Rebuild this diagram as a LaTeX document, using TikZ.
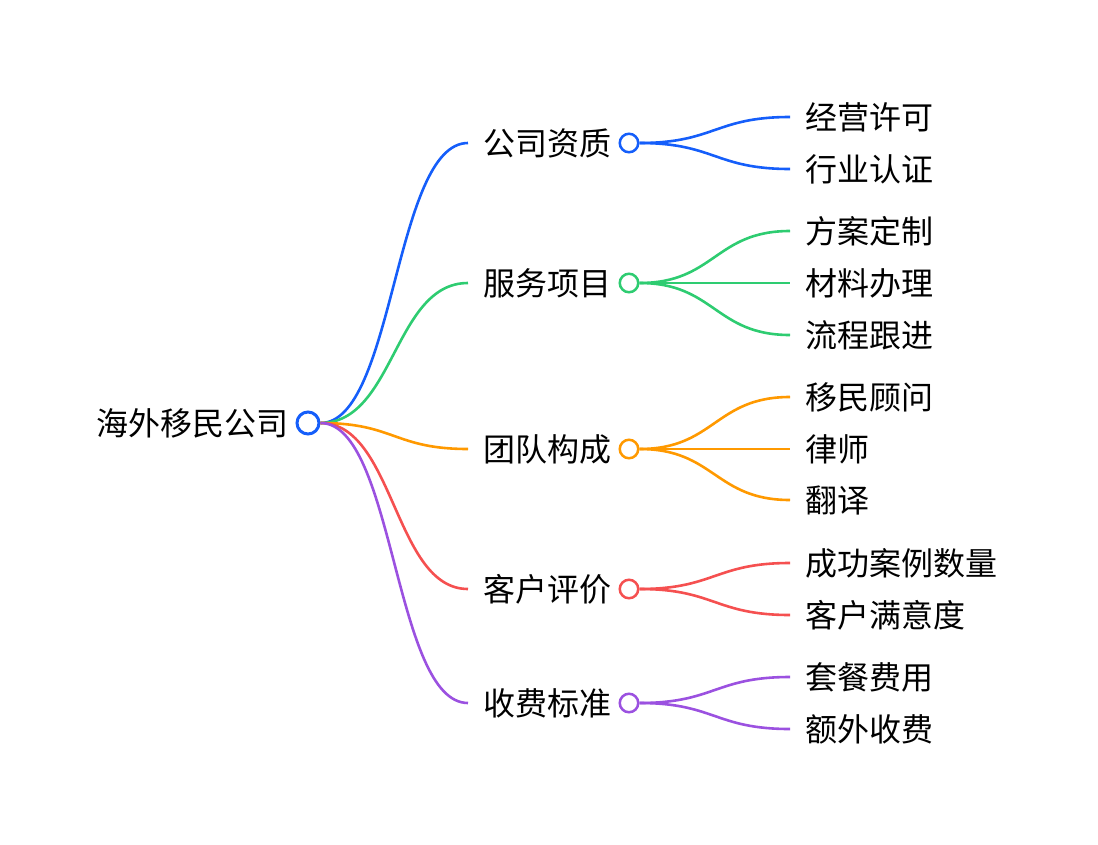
\documentclass[tikz,border=0pt]{standalone}
\usepackage{fontspec}
\setmainfont{Noto Sans CJK SC}
\definecolor{mblue}{RGB}{21,94,250}
\definecolor{mgreen}{RGB}{46,204,113}
\definecolor{morange}{RGB}{255,153,0}
\definecolor{mred}{RGB}{245,80,80}
\definecolor{mpurple}{RGB}{155,81,224}

\begin{document}
\begin{tikzpicture}[x=1pt, y=-1pt,
  label/.style={font=\fontsize{32}{32}\selectfont, inner ysep=0pt, inner xsep=15pt, text height=24pt, text depth=0pt},
  topic/.style={label, anchor=west},
  leaf/.style={label, anchor=west},
  hub/.style={draw, circle, fill=white, inner sep=0pt, line width=2.5pt, minimum size=18.5pt},
  link/.style={line width=2.6pt}]
  \useasboundingbox (0,0) rectangle (1098,844);

  % root
  \node (rootlabel) [label, anchor=east, inner xsep=0pt] at (289,423) {海外移民公司};
  \node (root) [hub, draw=mblue, line width=3pt, minimum size=22pt] at (308,423) {};

  % branches
  \node (zizhi) [topic] at (468,143) {公司资质};
  \node (fuwu) [topic] at (468,283) {服务项目};
  \node (tuandui) [topic] at (468,449) {团队构成};
  \node (pingjia) [topic] at (468,589) {客户评价};
  \node (shoufei) [topic] at (468,703) {收费标准};

  \node (zizhiC) [hub, draw=mblue] at (629,143) {};
  \node (fuwuC) [hub, draw=mgreen] at (629,283) {};
  \node (tuanduiC) [hub, draw=morange] at (629,449) {};
  \node (pingjiaC) [hub, draw=mred] at (629,589) {};
  \node (shoufeiC) [hub, draw=mpurple] at (629,703) {};

  % leaves
  \node (xuke) [leaf] at (790,117) {经营许可};
  \node (renzheng) [leaf] at (790,169) {行业认证};
  \node (fangan) [leaf] at (790,231) {方案定制};
  \node (cailiao) [leaf] at (790,283) {材料办理};
  \node (liucheng) [leaf] at (790,335) {流程跟进};
  \node (guwen) [leaf] at (790,397) {移民顾问};
  \node (lvshi) [leaf] at (790,449) {律师};
  \node (fanyi) [leaf] at (790,500) {翻译};
  \node (anli) [leaf] at (790,563) {成功案例数量};
  \node (manyi) [leaf] at (790,615) {客户满意度};
  \node (taocan) [leaf] at (790,677) {套餐费用};
  \node (ewai) [leaf] at (790,729) {额外收费};

  % root to branches
  \draw[link, mblue] (root.east) .. controls +(74,0) and +(-74,0) .. (zizhi.west);
  \draw[link, mgreen] (root.east) .. controls +(74,0) and +(-74,0) .. (fuwu.west);
  \draw[link, morange] (root.east) .. controls +(74,0) and +(-74,0) .. (tuandui.west);
  \draw[link, mred] (root.east) .. controls +(74,0) and +(-74,0) .. (pingjia.west);
  \draw[link, mpurple] (root.east) .. controls +(74,0) and +(-74,0) .. (shoufei.west);

  % branches to leaves
  \draw[link, mblue] (zizhiC.east) .. controls +(75,0) and +(-75,0) .. (xuke.west);
  \draw[link, mblue] (zizhiC.east) .. controls +(75,0) and +(-75,0) .. (renzheng.west);
  \draw[link, mgreen] (fuwuC.east) .. controls +(75,0) and +(-75,0) .. (fangan.west);
  \draw[link, mgreen] (fuwuC.east) -- (cailiao.west);
  \draw[link, mgreen] (fuwuC.east) .. controls +(75,0) and +(-75,0) .. (liucheng.west);
  \draw[link, morange] (tuanduiC.east) .. controls +(75,0) and +(-75,0) .. (guwen.west);
  \draw[link, morange] (tuanduiC.east) -- (lvshi.west);
  \draw[link, morange] (tuanduiC.east) .. controls +(75,0) and +(-75,0) .. (fanyi.west);
  \draw[link, mred] (pingjiaC.east) .. controls +(75,0) and +(-75,0) .. (anli.west);
  \draw[link, mred] (pingjiaC.east) .. controls +(75,0) and +(-75,0) .. (manyi.west);
  \draw[link, mpurple] (shoufeiC.east) .. controls +(75,0) and +(-75,0) .. (taocan.west);
  \draw[link, mpurple] (shoufeiC.east) .. controls +(75,0) and +(-75,0) .. (ewai.west);
\end{tikzpicture}
\end{document}
